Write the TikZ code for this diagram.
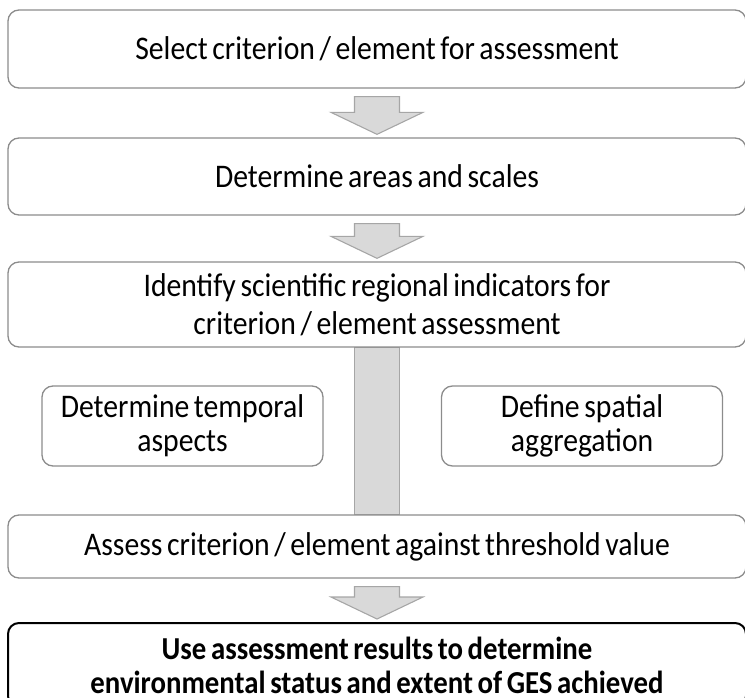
\documentclass[tikz,border=0pt]{standalone}
\usepackage{fontspec}
\setmainfont{Carlito}[FakeStretch=0.9]
\usepackage{tikz}
\usetikzlibrary{calc,backgrounds}
\definecolor{boxline}{HTML}{8C8C8C}
\definecolor{arrowfill}{HTML}{D9D9D9}
\definecolor{arrowline}{HTML}{A6A6A6}

\begin{document}
\begin{tikzpicture}[x=1pt,y=1pt,
font=\fontsize{33}{34}\selectfont,
every node/.style={execute at begin node={\spaceskip=4.6pt\relax}},
stepbox/.style={draw=boxline,line width=1.3pt,rounded corners=11pt,
  minimum width=738pt,text width=730pt,align=center,inner sep=0pt},
sidebox/.style={draw=boxline,line width=1.3pt,rounded corners=11pt,
  minimum width=281pt,minimum height=80pt,text width=278pt,align=center,inner sep=0pt},
fatarrow/.style={fill=arrowfill,draw=arrowline,line width=1.1pt,line join=miter},
scale=1]
    \useasboundingbox (0,0) rectangle (745,-698);

    % Main steps
    \node[stepbox,minimum height=78pt] (select) at (377,-49) {Select criterion / element for assessment};
    \node[stepbox,minimum height=77pt] (areas) at (377,-176.5) {Determine areas and scales};
    \node[stepbox,minimum height=85pt,font=\fontsize{33}{38}\selectfont] (indic) at (377,-304.5) {Identify scientific regional indicators for\\ criterion / element assessment};
    \node[stepbox,minimum height=63pt] (assess) at (377,-546.5) {Assess criterion / element against threshold value};
    \node[stepbox,minimum height=84pt,draw=black,line width=2pt,font=\fontsize{32}{34}\selectfont\bfseries] (result) at (377,-665) {Use assessment results to determine\\ environmental status and extent of GES achieved};

    % Side steps
    \node[sidebox] (temporal) at (182.5,-426) {Determine temporal\\ aspects};
    \node[sidebox] (spatial) at (582,-426) {Define spatial\\ aggregation};

    % Bar between indicators and assessment
    \begin{scope}[on background layer]
    \draw[fatarrow] ($(indic.south)+(-22.5,0)$) rectangle ($(assess.north)+(22.5,0)$);
    \end{scope}

    % Block arrows
    \foreach \a/\b in {select/areas,areas/indic,assess/result}{
      \path ($(\a.south)+(0,-8)$) coordinate (top)
            ($(\b.north)+(0,3)$) coordinate (tip);
      \draw[fatarrow] ($(top)+(-22.5,0)$) -- ($(tip)+(-22.5,22)$) -- ($(tip)+(-46,22)$)
        -- (tip) -- ($(tip)+(46,22)$) -- ($(tip)+(22.5,22)$) -- ($(top)+(22.5,0)$) -- cycle;
    }

\end{tikzpicture}
\end{document}
